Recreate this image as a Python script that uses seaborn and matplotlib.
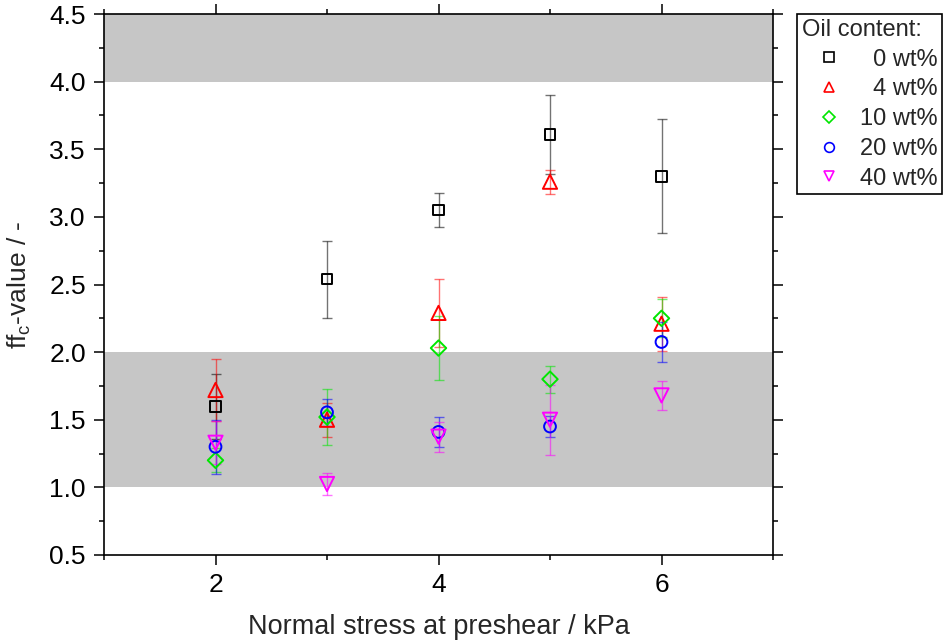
import numpy as np
import pandas as pd
import seaborn as sns
import matplotlib.pyplot as plt
from matplotlib.lines import Line2D
from matplotlib.ticker import MultipleLocator

# Normal stress at preshear (kPa)
stress = [2, 3, 4, 5, 6]
oil_levels = ['0 wt%', '4 wt%', '10 wt%', '20 wt%', '40 wt%']

# ffc values and error bars per oil content
ffc_0 = [1.60, 2.54, 3.05, 3.61, 3.30]
err_0 = [0.24, 0.285, 0.125, 0.29, 0.42]
ffc_4 = [1.72, 1.50, 2.29, 3.26, 2.21]
err_4 = [0.23, 0.125, 0.25, 0.09, 0.20]
ffc_10 = [1.20, 1.52, 2.03, 1.80, 2.25]
err_10 = [0.09, 0.21, 0.235, 0.10, 0.14]
ffc_20 = [1.30, 1.555, 1.41, 1.45, 2.075]
err_20 = [0.20, 0.10, 0.11, 0.08, 0.15]
ffc_40 = [1.33, 1.025, 1.375, 1.50, 1.68]
err_40 = [0.16, 0.08, 0.11, 0.26, 0.11]

values = [ffc_0, ffc_4, ffc_10, ffc_20, ffc_40]
errors = [err_0, err_4, err_10, err_20, err_40]

df = pd.DataFrame({
    'stress': np.tile(stress, len(oil_levels)),
    'ffc': np.concatenate(values),
    'err': np.concatenate(errors),
    'oil': np.repeat(oil_levels, len(stress)),
})

colors = {'0 wt%': '#000000', '4 wt%': '#ff0000', '10 wt%': '#00e600',
          '20 wt%': '#0000ff', '40 wt%': '#ff00ff'}
markers = {'0 wt%': 's', '4 wt%': '^', '10 wt%': 'D', '20 wt%': 'o', '40 wt%': 'v'}
sizes = {'0 wt%': 58, '4 wt%': 105, '10 wt%': 62, '20 wt%': 72, '40 wt%': 105}

sns.set_theme(style='ticks')
plt.rcParams['font.family'] = ['Liberation Sans', 'DejaVu Sans']
plt.rcParams['mathtext.fontset'] = 'custom'
plt.rcParams['mathtext.rm'] = 'Liberation Sans'

fig = plt.figure(figsize=(9.47, 6.44), dpi=100)
ax = fig.add_axes([104/947, 1-555/644, (773-104)/947, (555-14)/644])

# shaded ffc regions
ax.axhspan(1.0, 2.0, color='#c6c6c6', zorder=0, lw=0)
ax.axhspan(4.0, 4.5, color='#c6c6c6', zorder=0, lw=0)

# error bars (lighter)
for lvl in oil_levels:
    sub = df[df['oil'] == lvl]
    ax.errorbar(sub['stress'], sub['ffc'], yerr=sub['err'], fmt='none',
                ecolor=colors[lvl], elinewidth=1, capsize=3.8, capthick=1,
                alpha=0.55, zorder=2)

# open markers
for lvl in oil_levels:
    sub = df[df['oil'] == lvl]
    sns.scatterplot(data=sub, x='stress', y='ffc', marker=markers[lvl],
                    s=sizes[lvl], facecolor='none', edgecolor=colors[lvl],
                    linewidth=1.4, ax=ax, zorder=3, legend=False)

ax.set_xlim(1, 7)
ax.set_ylim(0.5, 4.5)
ax.xaxis.set_major_locator(MultipleLocator(2))
ax.xaxis.set_minor_locator(MultipleLocator(1))
ax.yaxis.set_major_locator(MultipleLocator(0.5))
ax.yaxis.set_minor_locator(MultipleLocator(0.25))
ax.tick_params(which='both', direction='out', top=True, right=True,
               labeltop=False, labelright=False, width=1.1, colors='black',
               labelsize=19)
ax.tick_params(which='major', length=7, pad=6)
ax.tick_params(which='minor', length=3.5)
for sp in ax.spines.values():
    sp.set_visible(True)
    sp.set_linewidth(1.2)
    sp.set_color('black')

ax.set_xlabel('Normal stress at preshear / kPa', fontsize=19.5, labelpad=12)
ax.set_ylabel(r'ff$_\mathregular{c}$-value / -', fontsize=19, labelpad=12)

handles = [Line2D([], [], ls='none', marker=markers[l], markersize=7 if markers[l] != 'D' else 6,
                  markerfacecolor='none', markeredgecolor=colors[l], markeredgewidth=1.2)
           for l in oil_levels]
labels = ['\u20070 wt%', '\u20074 wt%', '10 wt%', '20 wt%', '40 wt%']
leg = ax.legend(handles, labels, title='Oil content:', loc='upper left',
                bbox_to_anchor=(797/947, 1-14/644), bbox_transform=fig.transFigure,
                borderaxespad=0, fontsize=17, title_fontsize=17, alignment='left',
                frameon=True, fancybox=False, edgecolor='black', framealpha=1,
                handlelength=2.3, handletextpad=0.15, labelspacing=0.33,
                borderpad=0.2)
leg.get_frame().set_linewidth(1.2)

plt.savefig('out.png', dpi=100)
